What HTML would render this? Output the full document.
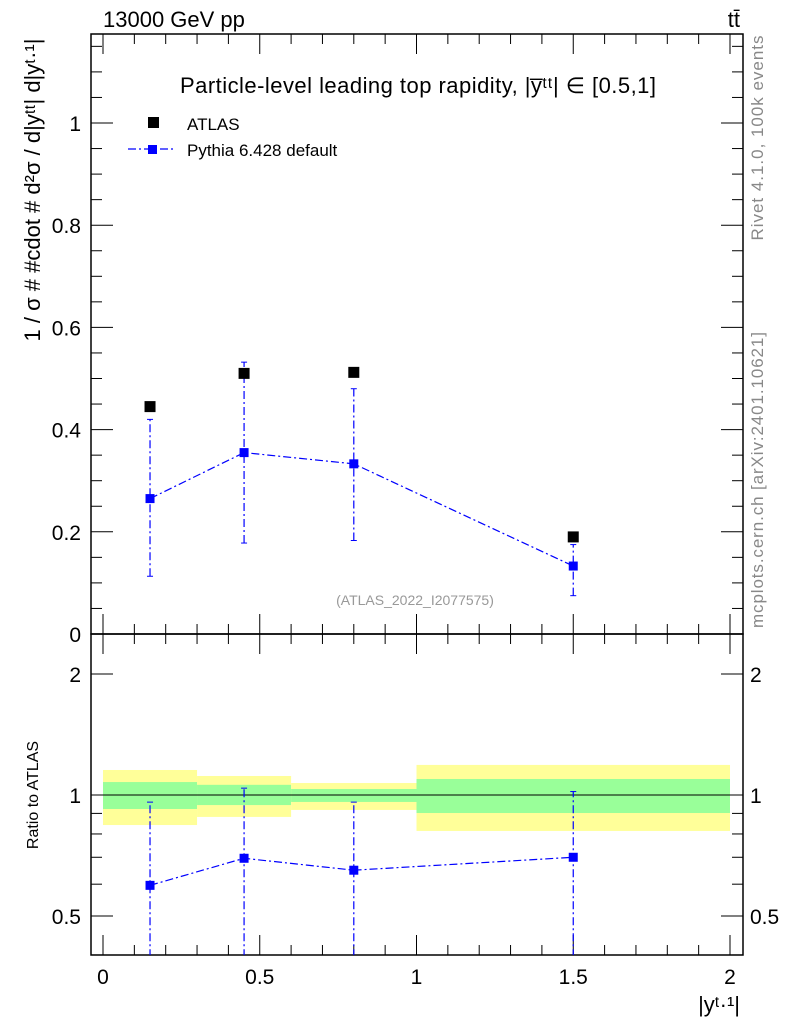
<!DOCTYPE html>
<html><head><meta charset="utf-8"><style>
body{margin:0;background:#fff;}
svg{display:block;font-family:"Liberation Sans",sans-serif;}
</style></head><body>
<svg id="c" width="786" height="1024" xmlns="http://www.w3.org/2000/svg"></svg>
<script>
const xBins=[0,0.3,0.6,1,2];
const xCenters=[0.15,0.45,0.8,1.5];
const atlasVals=[0.445,0.51,0.512,0.19];
const pyVals=[0.265,0.355,0.333,0.133];
const pyLo=[0.113,0.178,0.183,0.075];
const pyHi=[0.42,0.532,0.48,0.175];
const ratioVals=[0.596,0.696,0.65,0.70];
const ratioHi=[0.96,1.04,0.96,1.02];
const ratioLo=[0.3,0.3,0.3,0.3];
const greenHi=[1.077,1.06,1.035,1.096];
const greenLo=[0.923,0.944,0.961,0.902];
const yellowHi=[1.154,1.115,1.071,1.188];
const yellowLo=[0.842,0.882,0.918,0.814];
const xTicks=[0,0.5,1,1.5,2];
const xTickLabels=["0","0.5","1","1.5","2"];
const yTicks=[0,0.2,0.4,0.6,0.8,1];
const yTickLabels=["0","0.2","0.4","0.6","0.8","1"];
const rTicks=[0.5,1,2];
const rTickLabels=["0.5","1","2"];

const NS="http://www.w3.org/2000/svg";
const svg=document.getElementById('c');
const L=91,R=743,T=34,M=634,B=955;
const X=v=>103+v*313.5;
const Y=v=>634-v*511;
const RY=v=>795-Math.log10(v)*402;
function el(tag,a,name,p){const e=document.createElementNS(NS,tag);for(const k in a)e.setAttribute(k,a[k]);


(p||svg).appendChild(e);return e;}
function txt(x,y,s,size,anchor,name,fill){const t=el('text',{x:x,y:y,'font-size':size,'text-anchor':anchor||'start',fill:fill||'#000'},name);t.textContent=s;return t;}

for(let i=0;i<4;i++){
 el('rect',{x:X(xBins[i]),y:RY(yellowHi[i]),width:X(xBins[i+1])-X(xBins[i]),height:RY(yellowLo[i])-RY(yellowHi[i]),fill:'#ffff99'},'yellow-band');
 el('rect',{x:X(xBins[i]),y:RY(greenHi[i]),width:X(xBins[i+1])-X(xBins[i]),height:RY(greenLo[i])-RY(greenHi[i]),fill:'#99ff99'},'green-band');
}
el('line',{x1:X(0),x2:X(2),y1:RY(1),y2:RY(1),stroke:'#000','stroke-width':1},'ratio-unity-line');

el('rect',{x:L,y:T,width:R-L,height:M-T,fill:'none',stroke:'#000','stroke-width':1.5},'main-frame');
el('rect',{x:L,y:M,width:R-L,height:B-M,fill:'none',stroke:'#000','stroke-width':1.5},'ratio-frame');

for(let v=0;v<=2.001;v+=0.1){
 const maj=Math.abs(v*2-Math.round(v*2))<1e-6, len=maj?20:10, x=X(v);
 [[M,-1],[T,1],[B,-1],[M,1]].forEach(([y0,d])=>el('line',{x1:x,x2:x,y1:y0,y2:y0+d*len,stroke:'#000'},'x-tick'));
}
xTicks.forEach((v,i)=>txt(X(v),984,xTickLabels[i],21,'middle','x-tick-label'));
for(let v=0;v<=1.17;v+=0.05){
 const maj=Math.abs(v*5-Math.round(v*5))<1e-6,len=maj?22:11,y=Y(v);
 el('line',{x1:L,x2:L+len,y1:y,y2:y,stroke:'#000'},'y-tick');
 el('line',{x1:R,x2:R-len,y1:y,y2:y,stroke:'#000'},'y-tick');
}
yTicks.forEach((v,i)=>txt(81,Y(v)+8,yTickLabels[i],21,'end','y-tick-label'));
[0.4,0.5,0.6,0.7,0.8,0.9,1,2].forEach(v=>{const maj=(v==0.5||v==1||v==2),len=maj?22:11,y=RY(v);
 if(y<M||y>B)return;
 el('line',{x1:L,x2:L+len,y1:y,y2:y,stroke:'#000'},'ratio-tick');
 el('line',{x1:R,x2:R-len,y1:y,y2:y,stroke:'#000'},'ratio-tick');});
rTicks.forEach((v,i)=>{txt(81,RY(v)+8,rTickLabels[i],21,'end','ratio-tick-label');txt(750,RY(v)+8,rTickLabels[i],21,'start','ratio-tick-label-right');});

const defs=el('defs',{},'defs');
const cp=el('clipPath',{id:'rc'},'ratio-clip',defs);
el('rect',{x:L,y:M,width:R-L,height:B-M},'ratio-clip-rect',cp);

const pyG=el('g',{},'pythia-series');
el('polyline',{points:xCenters.map((x,i)=>X(x)+','+Y(pyVals[i])).join(' '),fill:'none',stroke:'#0000ff','stroke-width':1.2,'stroke-dasharray':'8,3,2,3'},'pythia-line',pyG);
xCenters.forEach((x,i)=>{
 el('line',{x1:X(x),x2:X(x),y1:Y(pyLo[i]),y2:Y(pyHi[i]),stroke:'#0000ff','stroke-width':1.2,'stroke-dasharray':'8,3,2,3'},'pythia-errorbar',pyG);
 el('line',{x1:X(x)-3,x2:X(x)+3,y1:Y(pyLo[i]),y2:Y(pyLo[i]),stroke:'#0000ff'},'pythia-err-cap',pyG);
 el('line',{x1:X(x)-3,x2:X(x)+3,y1:Y(pyHi[i]),y2:Y(pyHi[i]),stroke:'#0000ff'},'pythia-err-cap',pyG);
 el('rect',{x:X(x)-4.5,y:Y(pyVals[i])-4.5,width:9,height:9,fill:'#0000ff'},'pythia-point',pyG);
});
xCenters.forEach((x,i)=>el('rect',{x:X(x)-5.5,y:Y(atlasVals[i])-5.5,width:11,height:11,fill:'#000'},'atlas-point'));

const rg=el('g',{'clip-path':'url(#rc)'},'ratio-series');
el('polyline',{points:xCenters.map((x,i)=>X(x)+','+RY(ratioVals[i])).join(' '),fill:'none',stroke:'#0000ff','stroke-width':1.2,'stroke-dasharray':'8,3,2,3'},'ratio-line',rg);
xCenters.forEach((x,i)=>{
 el('line',{x1:X(x),x2:X(x),y1:RY(ratioLo[i]),y2:RY(ratioHi[i]),stroke:'#0000ff','stroke-width':1.2,'stroke-dasharray':'8,3,2,3'},'ratio-errorbar',rg);
 el('line',{x1:X(x)-3,x2:X(x)+3,y1:RY(ratioHi[i]),y2:RY(ratioHi[i]),stroke:'#0000ff'},'ratio-err-cap',rg);
 el('rect',{x:X(x)-4.5,y:RY(ratioVals[i])-4.5,width:9,height:9,fill:'#0000ff'},'ratio-point',rg);
});

txt(103,27,'13000 GeV pp',22,'start','top-left-label');
txt(740,27,'tt̄',22,'end','top-right-label');
const lt=txt(180,93,'Particle-level leading top rapidity, |y\u0305ᵗᵗ| \u2208 [0.5,1]',22,'start','plot-title');
lt.setAttribute('textLength','476');
el('rect',{x:148,y:117,width:11,height:11,fill:'#000'},'legend-atlas-marker');
txt(187,130,'ATLAS',17,'start','legend-atlas-label');
el('line',{x1:128,x2:175,y1:149,y2:149,stroke:'#0000ff','stroke-width':1.2,'stroke-dasharray':'8,3,2,3'},'legend-pythia-line');
el('rect',{x:148,y:145,width:9,height:9,fill:'#0000ff'},'legend-pythia-marker');
txt(187,156,'Pythia 6.428 default',17,'start','legend-pythia-label');
txt(415,605,'(ATLAS_2022_I2077575)',14,'middle','analysis-id','#999');
const yt=txt(0,0,'1 / σ # #cdot # d²σ / d|yᵗᵗ| d|yᵗ·¹|',22,'middle','y-axis-title');
yt.setAttribute('transform','translate(40,190) rotate(-90)');
const rt=txt(0,0,'Ratio to ATLAS',16,'middle','ratio-axis-title');
rt.setAttribute('transform','translate(38,795) rotate(-90)');
txt(740,1012,'|yᵗ·¹|',22,'end','x-axis-title');
const s1=txt(0,0,'Rivet 4.1.0,  100k events',17,'middle','rivet-label','#888');
s1.setAttribute('transform','translate(763,138) rotate(-90)');
s1.setAttribute('textLength','205');
const s2=txt(0,0,'mcplots.cern.ch [arXiv:2401.10621]',17,'middle','mcplots-label','#888');
s2.setAttribute('transform','translate(763,480) rotate(-90)');
s2.setAttribute('textLength','296');
</script>
</body></html>
